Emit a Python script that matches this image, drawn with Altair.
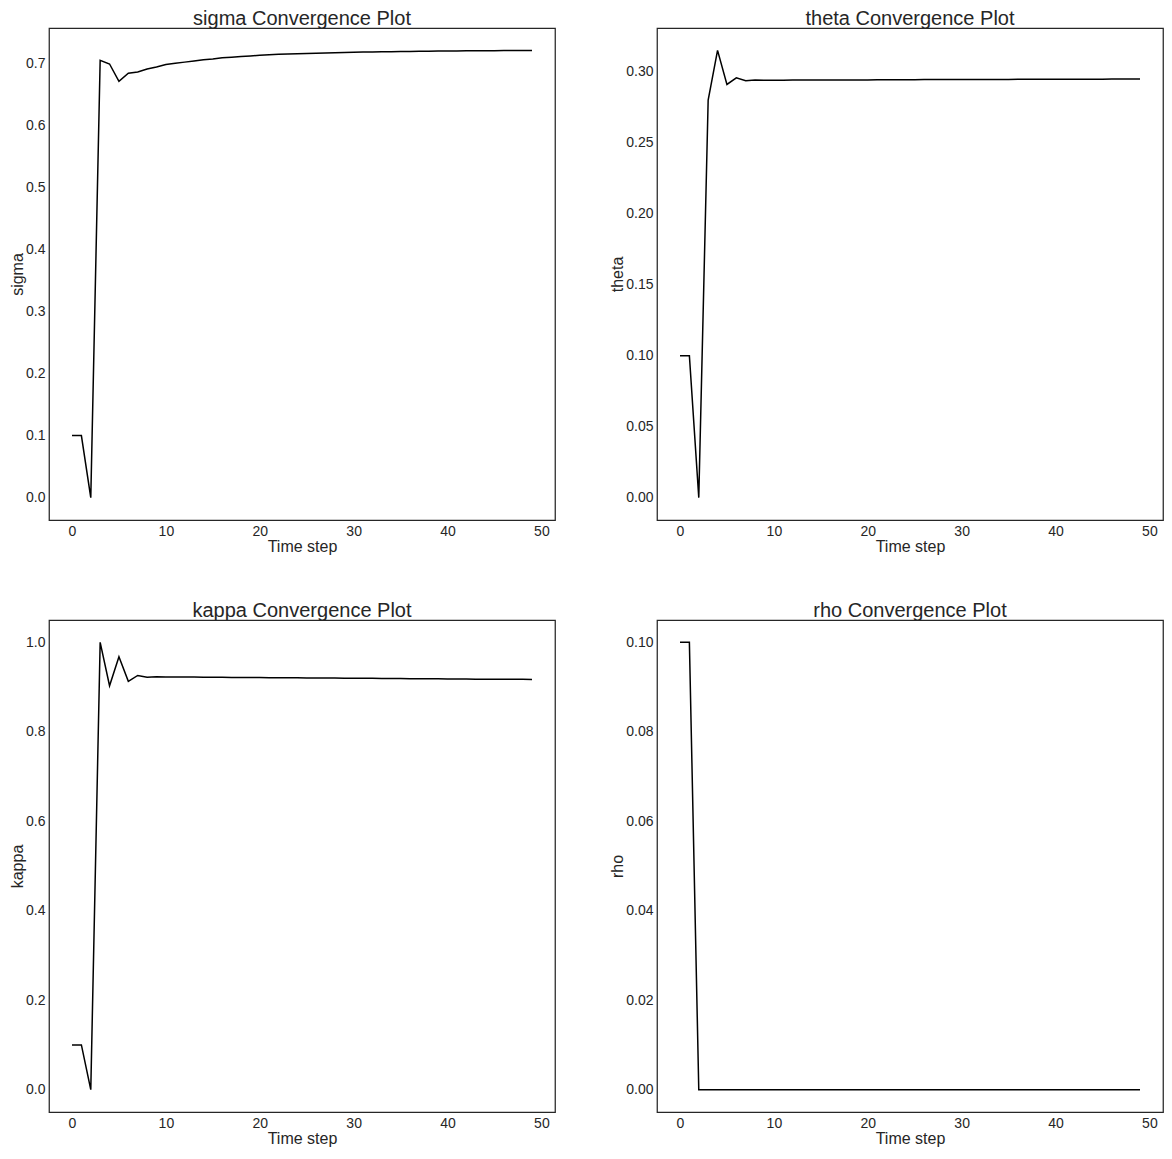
import altair as alt
import pandas as pd

steps = list(range(50))

sigma = [0.1, 0.1, 0.0, 0.705, 0.699, 0.671, 0.684, 0.686, 0.691, 0.694,
         0.698, 0.700, 0.702, 0.704, 0.706, 0.707, 0.709, 0.710, 0.711, 0.712,
         0.713, 0.7138, 0.7145, 0.7151, 0.7156, 0.716, 0.7164, 0.7168, 0.7172, 0.7176,
         0.718, 0.7182, 0.7184, 0.7186, 0.7188, 0.719, 0.7192, 0.7194, 0.7196, 0.7198,
         0.720, 0.7201, 0.7202, 0.7203, 0.7204, 0.7205, 0.7206, 0.7207, 0.7208, 0.7209]

theta = [0.1, 0.1, 0.0, 0.280, 0.315, 0.291, 0.2957, 0.2936, 0.2941, 0.2940,
         0.2940, 0.2940, 0.2941, 0.2941, 0.2941, 0.2941, 0.2942, 0.2942, 0.2942, 0.2942,
         0.2942, 0.2943, 0.2943, 0.2943, 0.2943, 0.2943, 0.2944, 0.2944, 0.2944, 0.2944,
         0.2944, 0.2945, 0.2945, 0.2945, 0.2945, 0.2945, 0.2946, 0.2946, 0.2946, 0.2946,
         0.2946, 0.2947, 0.2947, 0.2947, 0.2947, 0.2947, 0.2948, 0.2948, 0.2948, 0.2948]

kappa = [0.1, 0.1, 0.0, 1.0, 0.903, 0.968, 0.913, 0.926, 0.922, 0.923,
         0.9228, 0.9226, 0.9225, 0.9223, 0.9222, 0.922, 0.9219, 0.9217, 0.9216, 0.9214,
         0.9213, 0.9211, 0.921, 0.9208, 0.9207, 0.9205, 0.9204, 0.9202, 0.9201, 0.9199,
         0.9198, 0.9196, 0.9195, 0.9193, 0.9192, 0.919, 0.9189, 0.9187, 0.9186, 0.9184,
         0.9183, 0.9181, 0.918, 0.9178, 0.9177, 0.9176, 0.9175, 0.9174, 0.9173, 0.9172]

rho = [0.1, 0.1, 0.0] + [0.0] * 47

panels = [
    ("sigma", sigma, [-0.036, 0.757], [0.0, 0.1, 0.2, 0.3, 0.4, 0.5, 0.6, 0.7], ".1f"),
    ("theta", theta, [-0.01575, 0.33075], [0.0, 0.05, 0.10, 0.15, 0.20, 0.25, 0.30], ".2f"),
    ("kappa", kappa, [-0.05, 1.05], [0.0, 0.2, 0.4, 0.6, 0.8, 1.0], ".1f"),
    ("rho", rho, [-0.005, 0.105], [0.0, 0.02, 0.04, 0.06, 0.08, 0.10], ".2f"),
]

charts = []
for name, vals, dom, ticks, fmt in panels:
    df = pd.DataFrame({"step": steps, "value": vals})
    c = alt.Chart(df).mark_line(color="black", strokeWidth=1.5).encode(
        x=alt.X("step:Q", title="Time step",
                scale=alt.Scale(domain=[-2.45, 51.45], nice=False, zero=False),
                axis=alt.Axis(values=[0, 10, 20, 30, 40, 50], format="d",
                              titlePadding=0)),
        y=alt.Y("value:Q", title=name,
                scale=alt.Scale(domain=dom, nice=False, zero=False),
                axis=alt.Axis(values=ticks, format=fmt, titlePadding=0)),
    ).properties(width=506, height=492,
                 title=alt.TitleParams(f"{name} Convergence Plot"))
    charts.append(c)

chart = alt.concat(
    *charts, columns=2, spacing={"row": 100, "column": 102}, bounds="flush",
).properties(
    padding={"left": 0, "top": 0, "right": 0, "bottom": 0},
).configure(
    font="Liberation Sans",
).configure_view(
    stroke="#262626", strokeWidth=1.25,
).configure_axis(
    grid=False, domain=False, ticks=False,
    labelFontSize=14, labelColor="#262626", labelPadding=4,
    titleFontSize=16, titleFontWeight="normal", titleColor="#262626",
).configure_title(
    fontSize=20, fontWeight="normal", color="#262626", offset=-1,
)

chart.save("out.html", embed_options={"renderer": "svg", "actions": False})
